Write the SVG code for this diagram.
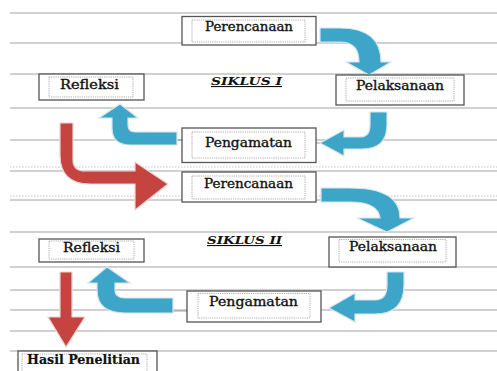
<svg xmlns="http://www.w3.org/2000/svg" width="497" height="371" viewBox="0 0 497 371">
<style>
.rule{stroke:#a3a3a3;stroke-width:1.2;fill:none}
.dot{stroke:#c4c4c4;stroke-width:1;stroke-dasharray:1.5 1.5;fill:none}
.outer{fill:#fff;stroke:#555;stroke-width:1.3}
.inner{fill:none;stroke:#999;stroke-width:0.8;stroke-dasharray:1.2 1}
.lbl{font-family:"DejaVu Serif","Liberation Serif",serif;font-size:12px;fill:#111;stroke:#111;stroke-width:0.35}
.bold{font-weight:bold;stroke-width:0.2}
.sik{font-family:"DejaVu Serif","Liberation Serif",serif;font-size:11px;font-weight:bold;font-style:italic;text-decoration:underline;fill:#111}
.blue{fill:#3da5c8;stroke:#d6e6ec;stroke-width:1.2}
.red{fill:#c5443f;stroke:#ecd6d4;stroke-width:1.2}
.thin{stroke:#888;stroke-width:0.8}
</style>
<rect width="497" height="371" fill="#fff"/>
<g id="rules">
<line class="rule" x1="10" y1="13" x2="497" y2="13"/>
<line class="rule" x1="10" y1="43" x2="497" y2="43"/>
<line class="rule" x1="10" y1="74" x2="497" y2="74"/>
<line class="rule" x1="10" y1="108" x2="497" y2="108"/>
<line class="rule" x1="10" y1="140" x2="497" y2="140"/>
<line class="dot" x1="10" y1="167" x2="497" y2="167"/>
<line class="rule" x1="10" y1="171" x2="497" y2="171"/>
<line class="dot" x1="10" y1="196" x2="497" y2="196"/>
<line class="rule" x1="10" y1="200" x2="497" y2="200"/>
<line class="rule" x1="10" y1="232" x2="497" y2="232"/>
<line class="rule" x1="10" y1="267" x2="497" y2="267"/>
<line class="rule" x1="10" y1="290" x2="497" y2="290"/>
<line class="rule" x1="10" y1="310" x2="497" y2="310"/>
<line class="rule" x1="10" y1="331" x2="497" y2="331"/>
<line class="rule" x1="10" y1="351" x2="497" y2="351"/>
</g>
<g id="connectors">
<line class="thin" x1="316" y1="143" x2="321" y2="143"/>
<line class="thin" x1="176" y1="140" x2="182" y2="140"/>
<line class="thin" x1="172" y1="311" x2="187" y2="311"/>
<path class="blue" d="M320,28 L340,28 Q381,28 381,62 L391,62 L369,75 L346,62 L359,62 Q359,42 340,42 L320,42 Z"/>
<path class="blue" d="M370,112 L387,112 L387,125 Q387,149 362,149 L344,149 L344,156 L320,143 L344,130 L344,137 L360,137 Q370,137 370,125 Z"/>
<path class="blue" d="M177,132 L135,132 Q128,132 128,125 L128,118 L138,118 L120,104 L99,118 L112,118 L112,128 Q112,145 130,145 L177,145 Z"/>
<path class="red" d="M60,123 L73,123 L73,160 Q73,171 85,171 L135,171 L135,162 L168,184 L135,210 L135,184 L90,184 Q60,184 60,155 Z"/>
<path class="blue" d="M321,188 L350,188 Q400,188 400,218 L414,218 L387,232 L357,218 L380,218 Q378,202 350,202 L321,202 Z"/>
<path class="blue" d="M387,272 L404,272 L404,285 Q404,314 375,314 L355,314 L355,322 L329,308 L355,293 L355,300 L375,300 Q387,300 387,285 Z"/>
<path class="blue" d="M173,298 L125,298 Q115,298 115,290 L115,283 L130,283 L107,267 L88,283 L97,283 L97,290 Q97,313 125,313 L173,313 Z"/>
<path class="red" d="M60,272 L72,272 L72,317 L85,317 L66,347 L48,317 L60,317 Z"/>
</g>
<g id="perencanaan1">
<rect class="outer" x="182" y="16.5" width="134" height="28.5"/>
<rect class="inner" x="192" y="20" width="113" height="22"/>
<text class="lbl" x="205" y="31" textLength="88" lengthAdjust="spacingAndGlyphs">Perencanaan</text>
</g>
<g id="siklus1">
<text class="sik" x="211" y="85" textLength="71" lengthAdjust="spacingAndGlyphs">SIKLUS I</text>
</g>
<g id="refleksi1">
<rect class="outer" x="39" y="74" width="105" height="26"/>
<rect class="inner" x="49" y="77" width="84" height="20"/>
<text class="lbl" x="60" y="89" textLength="59" lengthAdjust="spacingAndGlyphs">Refleksi</text>
</g>
<g id="pelaksanaan1">
<rect class="outer" x="336" y="75" width="128" height="30"/>
<rect class="inner" x="346" y="78" width="108" height="23"/>
<text class="lbl" x="356" y="90" textLength="88" lengthAdjust="spacingAndGlyphs">Pelaksanaan</text>
</g>
<g id="pengamatan1">
<rect class="outer" x="182" y="128" width="134" height="34.5"/>
<rect class="inner" x="192" y="132" width="113" height="26"/>
<text class="lbl" x="205" y="147" textLength="87" lengthAdjust="spacingAndGlyphs">Pengamatan</text>
</g>
<g id="perencanaan2">
<rect class="outer" x="182" y="172" width="134" height="30"/>
<rect class="inner" x="192" y="176" width="113" height="23"/>
<text class="lbl" x="204" y="188" textLength="89" lengthAdjust="spacingAndGlyphs">Perencanaan</text>
</g>
<g id="siklus2">
<text class="sik" x="207" y="244" textLength="75" lengthAdjust="spacingAndGlyphs">SIKLUS II</text>
</g>
<g id="refleksi2">
<rect class="outer" x="39" y="239" width="105" height="23"/>
<rect class="inner" x="49" y="241" width="85" height="18"/>
<text class="lbl" x="63" y="252" textLength="57" lengthAdjust="spacingAndGlyphs">Refleksi</text>
</g>
<g id="pelaksanaan2">
<rect class="outer" x="329" y="237" width="127" height="30"/>
<rect class="inner" x="339" y="239.5" width="107" height="22.5"/>
<text class="lbl" x="349" y="251" textLength="88" lengthAdjust="spacingAndGlyphs">Pelaksanaan</text>
</g>
<g id="pengamatan2">
<rect class="outer" x="187" y="291" width="134" height="31"/>
<rect class="inner" x="198" y="293.5" width="112" height="24.5"/>
<text class="lbl" x="209" y="306" textLength="89" lengthAdjust="spacingAndGlyphs">Pengamatan</text>
</g>
<g id="hasil">
<rect class="outer" x="18" y="351" width="139" height="26"/>
<rect class="inner" x="22" y="354" width="125" height="22"/>
<text class="lbl bold" x="27" y="364" textLength="113" lengthAdjust="spacingAndGlyphs">Hasil Penelitian</text>
</g>
</svg>
